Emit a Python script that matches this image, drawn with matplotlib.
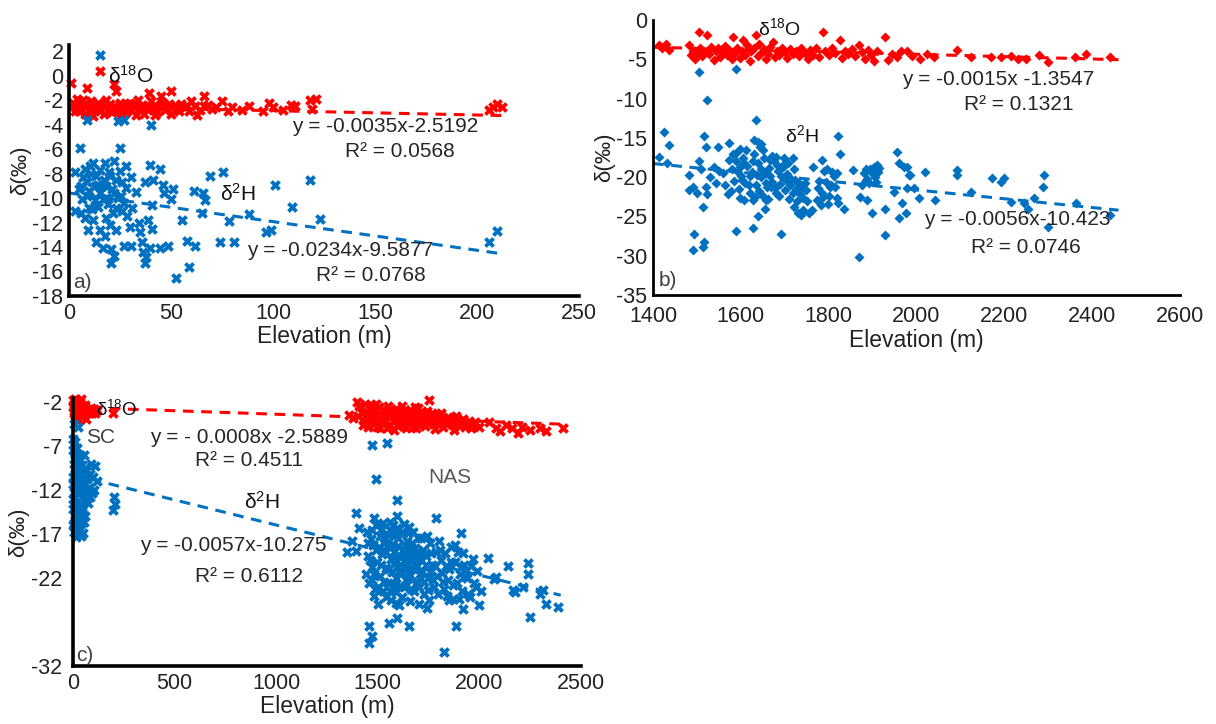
import matplotlib
matplotlib.use("Agg")
import matplotlib.pyplot as plt

plt.rcParams['font.family'] = ['Liberation Sans', 'DejaVu Sans']
plt.rcParams['axes.unicode_minus'] = False
plt.rcParams['mathtext.fontset'] = 'custom'
plt.rcParams['mathtext.rm'] = 'Liberation Sans'
plt.rcParams['mathtext.it'] = 'Liberation Sans:italic'

RED = '#FF0000'
BLUE = '#0070C0'

# ---------------- panel a ----------------
a_o18 = [(1, -0.6), (2, -2.2), (3, -2.6), (4, -1.9), (5, -2.9), (6, -2.4), (7, -2.0), (8, -3.1),
         (9, -1.0), (9, -2.5), (10, -2.8), (11, -2.1), (12, -3.3), (13, -2.6), (14, -2.2), (15, 0.4),
         (15, -2.9), (16, -2.4), (17, -3.1), (18, -2.0), (19, -2.7), (20, -2.3), (21, -3.0), (22, -0.7),
         (22, -2.5), (23, -1.3), (24, -2.9), (25, -3.4), (25, -2.2), (26, -2.7), (27, -2.4), (28, -3.0),
         (29, -2.6), (30, -2.2), (31, -2.9), (32, -2.5), (33, -3.2), (34, -2.0), (35, -2.7), (36, -2.4),
         (37, -3.1), (38, -2.6), (39, -1.4), (40, -2.1), (41, -2.8), (42, -2.4), (43, -3.0), (44, -2.5),
         (45, -1.7), (46, -2.2), (47, -2.8), (48, -2.6), (50, -1.3), (50, -3.1), (52, -2.4), (53, -2.7),
         (55, -2.3), (57, -2.6), (59, -2.9), (60, -2.1), (62, -2.5), (64, -2.8), (66, -1.7), (68, -2.4),
         (70, -2.7), (75, -2.1), (78, -2.9), (80, -2.6), (85, -2.8), (88, -2.5), (95, -2.9), (98, -2.2),
         (100, -2.6), (105, -2.8), (109, -2.4), (111, -2.5), (118, -2.0), (119, -2.7), (121, -1.9),
         (206, -2.8), (208, -2.6), (210, -2.3), (212, -2.6),
         (3, -2.9), (5, -2.1), (8, -2.3), (11, -2.9), (14, -2.7), (17, -2.2), (20, -2.9), (23, -2.8),
         (26, -3.1), (29, -2.3), (33, -2.4), (36, -2.8), (39, -2.5), (42, -3.2), (45, -2.6), (49, -2.3),
         (54, -2.9), (58, -2.5), (63, -3.2), (66, -2.5), (72, -2.6)]
a_h2 = [(15, 1.7), (9, -3.6), (24, -3.7), (27, -3.6), (40, -4.0), (3, -7.9), (5.6, -5.9), (4.8, -9.3),
        (3.2, -11.1), (6.3, -10.1), (7.9, -11.6), (9.5, -12.6), (10.3, -7.4), (11.9, -7.1), (13.5, -8.2),
        (15, -7.7), (12.7, -9.0), (15, -9.6), (16.7, -10.1), (14.3, -10.7), (11.1, -10.9), (8.7, -8.7),
        (18.3, -9.0), (17.5, -7.1), (19.8, -7.9), (22.2, -7.0), (23, -8.5), (25, -5.9), (27.8, -7.4),
        (26.2, -8.7), (30.2, -8.3), (25.4, -9.8), (27, -10.4), (28.6, -11.5), (26.2, -11.1), (21.4, -11.2),
        (15, -12.6), (17.5, -13.1), (13.5, -13.6), (16.7, -14.1), (20.6, -14.2), (22.2, -14.7), (20.6, -15.3),
        (23, -12.6), (27, -13.9), (30.2, -13.9), (34.1, -12.0), (34.9, -12.8), (35.7, -13.6), (36.5, -14.4),
        (37.3, -15.3), (38, -14.8), (39.7, -14.1), (40.5, -12.5), (38.9, -11.8), (39.7, -7.3), (44.4, -7.6),
        (37.3, -8.7), (41.3, -8.5), (46, -8.9), (46.8, -9.6), (50.8, -9.3), (50, -10.1), (40.5, -10.6),
        (44.4, -14.1), (48.4, -13.9), (52.4, -16.5), (55.6, -11.8), (57.9, -13.5), (61.9, -13.9),
        (58.7, -15.6), (61.1, -9.4), (65.9, -9.6), (66.7, -10.2), (65.1, -11.2), (69, -8.2), (75.4, -7.9),
        (73.8, -13.6), (78.6, -11.9), (81, -13.6), (88, -11.3), (96.8, -12.8), (99.2, -12.6), (100.8, -8.9),
        (109.5, -10.7), (118.3, -8.5), (123, -11.7), (206, -13.6), (210, -12.7),
        (7, -8.3), (9, -9.8), (11, -8.0), (13, -10.2), (17, -8.5), (19, -10.5), (21, -9.3), (24, -10.0),
        (20, -12.2), (12, -11.8), (6, -9.0), (10, -10.8), (18, -11.6), (28, -9.2), (33, -9.5), (31, -10.8),
        (30, -12.4), (8, -7.6), (14, -8.9), (16, -9.0), (20, -8.2), (22, -9.6), (25, -7.8), (10, -9.4),
        (6, -11.2), (18, -10.0), (23, -10.8)]
a_fit_o18 = (-0.0035, -2.5192)
a_fit_h2 = (-0.0234, -9.5877)
a_fit_x = (0, 213)

# ---------------- panel b ----------------
b_o18 = [(1414, -3.2), (1420, -3.6), (1429, -3.0), (1437, -3.8), (1482, -3.2), (1486, -4.5), (1490, -3.9),
         (1495, -5.0), (1500, -4.2), (1505, -1.5), (1508, -3.5), (1512, -4.6), (1518, -3.9), (1524, -1.9),
         (1527, -4.3), (1532, -3.4), (1538, -5.1), (1543, -4.0), (1548, -3.6), (1553, -4.7), (1558, -4.1),
         (1563, -3.3), (1568, -4.5), (1574, -3.8), (1580, -5.0), (1582, -2.1), (1586, -4.2), (1592, -3.5),
         (1597, -4.8), (1602, -3.9), (1605, -2.5), (1610, -4.4), (1615, -3.2), (1620, -5.2), (1624, -4.0),
         (1630, -3.6), (1635, -1.9), (1638, -4.6), (1642, -3.1), (1647, -4.2), (1652, -3.7), (1657, -5.0),
         (1662, -4.3), (1667, -3.4), (1673, -2.8), (1678, -4.7), (1683, -3.9), (1688, -4.4), (1693, -3.5),
         (1700, -4.1), (1706, -4.8), (1712, -3.7), (1718, -4.3), (1725, -3.9), (1732, -4.6), (1738, -3.6),
         (1745, -4.2), (1752, -4.9), (1758, -3.8), (1765, -4.4), (1772, -3.5), (1778, -4.7), (1788, -1.5),
         (1792, -4.0), (1800, -4.5), (1808, -3.6), (1815, -4.2), (1826, -2.5), (1830, -4.8), (1838, -3.9),
         (1845, -4.3), (1852, -3.7), (1860, -4.6), (1868, -3.2), (1875, -4.1), (1882, -4.9), (1890, -3.8),
         (1896, -4.4), (1903, -5.2), (1910, -4.0), (1929, -2.1), (1935, -5.1), (1945, -4.3), (1955, -4.7),
         (1965, -3.9), (1978, -4.0), (1990, -4.6), (2009, -4.9), (2024, -4.3), (2039, -4.7), (2093, -3.8),
         (2123, -4.7), (2169, -4.7), (2192, -4.7), (2215, -4.6), (2230, -4.9), (2249, -4.9), (2280, -4.5),
         (2299, -5.3), (2360, -4.7), (2387, -4.3), (2440, -4.7)]
b_h2 = [(1505, -6.6), (1589, -6.2), (1524, -10.2), (1635, -12.7), (1425, -14.2), (1437, -15.9), (1414, -17.4),
        (1433, -18.2), (1482, -19.7), (1482, -21.6), (1494, -27.2), (1490, -29.3), (1513, -28.9), (1517, -28.2),
        (1513, -23.8), (1524, -22.1), (1517, -14.8), (1521, -16.1), (1544, -20.8), (1547, -16.1), (1570, -22.1),
        (1589, -26.9), (1574, -15.7), (1582, -17.0), (1597, -18.7), (1608, -22.9), (1627, -22.9), (1627, -26.5),
        (1639, -25.0), (1631, -15.3), (1643, -16.1), (1658, -19.5), (1666, -17.8), (1681, -17.4), (1696, -18.7),
        (1692, -27.2), (1654, -24.0), (1658, -22.9), (1669, -21.2), (1719, -17.6), (1723, -20.4), (1739, -21.2),
        (1742, -24.2), (1761, -24.2), (1773, -22.9), (1765, -18.7), (1784, -17.8), (1796, -18.9), (1822, -14.8),
        (1826, -17.0), (1818, -19.5), (1803, -21.2), (1788, -22.5), (1834, -24.0), (1856, -19.1), (1868, -30.1),
        (1872, -22.5), (1884, -20.4), (1887, -22.9), (1895, -19.1), (1899, -24.6), (1903, -18.7), (1910, -18.5),
        (1929, -24.0), (1929, -27.4), (1956, -16.8), (1960, -18.2), (1971, -18.7), (1948, -21.9), (1967, -23.3),
        (1960, -25.2), (1975, -24.6), (1986, -19.7), (1994, -21.4), (2005, -22.7), (1978, -18.7), (1982, -19.7),
        (1978, -21.4), (2020, -19.3), (2043, -22.9), (2093, -19.1), (2093, -19.7), (2123, -21.9), (2173, -20.1),
        (2200, -20.1), (2192, -20.6), (2215, -23.1), (2245, -23.3), (2253, -24.0), (2268, -22.7), (2287, -21.2),
        (2291, -19.7), (2299, -26.3), (2364, -23.3), (2440, -24.8),
        (1580, -19.0), (1585, -20.5), (1590, -18.0), (1595, -21.5), (1600, -19.8), (1605, -17.5), (1610, -20.8),
        (1615, -18.6), (1620, -22.0), (1625, -19.3), (1630, -17.0), (1635, -21.0), (1640, -18.2), (1645, -20.0),
        (1650, -22.4), (1652, -17.6), (1655, -19.5), (1660, -21.3), (1665, -18.8), (1670, -20.6), (1675, -17.9),
        (1680, -22.0), (1685, -19.2), (1690, -20.9), (1695, -18.4), (1700, -21.6), (1705, -19.6), (1710, -22.8),
        (1715, -20.2), (1720, -23.8), (1725, -21.5), (1730, -24.5), (1735, -22.2), (1745, -20.8), (1750, -23.0),
        (1778, -20.5), (1785, -22.0), (1790, -19.2), (1798, -23.4), (1805, -21.0), (1812, -19.8), (1818, -22.6),
        (1880, -19.5), (1888, -20.2), (1895, -18.9), (1905, -20.0), (1912, -19.3), (1560, -19.5), (1565, -21.0),
        (1550, -19.2), (1540, -18.7), (1530, -20.0), (1520, -21.2), (1510, -19.0), (1505, -18.0), (1500, -22.0),
        (1490, -21.3),
        (1572, -17.8), (1578, -21.8), (1588, -16.9), (1593, -19.4), (1598, -22.6), (1603, -20.3), (1607, -18.2),
        (1612, -16.6), (1618, -21.0), (1622, -19.9), (1628, -18.0), (1633, -22.5), (1637, -19.7), (1642, -21.8),
        (1647, -18.9), (1650, -16.6), (1657, -20.7), (1662, -22.8), (1667, -19.9), (1672, -17.3), (1677, -21.4),
        (1682, -18.5), (1687, -22.4), (1692, -19.8), (1698, -17.6), (1703, -20.4), (1708, -18.2), (1713, -21.0),
        (1718, -22.0), (1722, -19.0), (1728, -23.0), (1733, -20.8), (1738, -24.8), (1742, -22.6), (1748, -21.6),
        (1755, -24.6), (1775, -21.4), (1782, -23.6), (1793, -20.6), (1800, -22.4), (1808, -19.4), (1815, -21.2),
        (1822, -23.3), (1876, -21.0), (1884, -19.0), (1892, -20.8), (1900, -19.6), (1908, -20.6), (1915, -18.8),
        (1598, -16.4), (1645, -15.8), (1640, -15.5)]
b_fit_o18 = (-0.0015, -1.3547)
b_fit_h2 = (-0.0056, -10.423)
b_fit_x = (1400, 2460)

# ---------------- panel c ----------------
c_o18 = [(0, -1.8), (5, -2.2), (10, -2.6), (15, -1.9), (20, -3.0), (25, -2.4), (30, -3.4), (35, -2.0),
         (40, -2.8), (45, -3.6), (50, -2.5), (55, -3.1), (60, -2.3), (70, -2.9), (80, -3.3), (90, -2.7),
         (100, -3.0), (110, -3.2), (120, -2.9), (8, -3.8), (18, -3.9), (28, -4.0), (3, -3.2), (12, -1.6),
         (197, -3.3), (65, -3.9), (40, -1.7), (5, -3.0), (15, -2.8), (22, -2.2), (33, -2.9), (48, -3.2),
         (58, -2.8), (75, -3.1), (85, -2.9), (95, -3.3), (105, -2.8), (2, -2.6), (10, -3.5),
         (1360, -3.5), (1380, -3.8), (1400, -2.0), (1410, -2.5), (1420, -3.2), (1430, -4.2), (1440, -3.0),
         (1450, -4.8), (1460, -2.6), (1470, -3.9), (1480, -4.5), (1490, -2.2), (1500, -3.4), (1510, -5.0),
         (1520, -2.9), (1530, -4.1), (1540, -3.6), (1550, -2.4), (1560, -4.6), (1570, -3.1), (1580, -5.2),
         (1590, -2.8), (1600, -3.8), (1610, -4.4), (1620, -2.5), (1630, -3.3), (1640, -4.9), (1650, -3.7),
         (1660, -2.9), (1670, -4.3), (1680, -3.5), (1690, -5.0), (1700, -2.7), (1710, -4.0), (1720, -3.4),
         (1730, -4.7), (1740, -3.0), (1753, -1.8), (1760, -4.2), (1770, -3.6), (1780, -5.1), (1790, -3.9),
         (1800, -4.5), (1810, -3.3), (1820, -4.8), (1830, -4.0), (1845, -3.7), (1860, -4.4), (1875, -5.2),
         (1890, -4.1), (1905, -4.7), (1920, -3.9), (1940, -4.5), (1960, -5.0), (1980, -4.3), (2000, -4.8),
         (2049, -4.3), (2080, -4.9), (2100, -5.3), (2130, -4.6), (2160, -5.0), (2190, -5.5), (2210, -4.8),
         (2250, -5.2), (2300, -4.9), (2330, -5.3), (2410, -5.0),
         (1405, -3.6), (1425, -4.6), (1435, -2.2), (1445, -3.4), (1455, -4.0), (1465, -3.2), (1475, -2.4),
         (1485, -3.6), (1495, -4.8), (1505, -2.6), (1515, -3.8), (1525, -4.5), (1535, -3.0), (1545, -4.9),
         (1555, -3.4), (1565, -2.8), (1575, -4.2), (1585, -3.5), (1595, -4.6), (1605, -3.0), (1615, -3.9),
         (1625, -4.7), (1635, -2.9), (1645, -3.8), (1655, -4.5), (1665, -3.6), (1675, -4.8), (1685, -2.6),
         (1695, -3.9), (1705, -4.6), (1715, -3.1), (1725, -4.2), (1735, -3.7), (1745, -4.4), (1765, -3.2),
         (1775, -4.5), (1785, -3.5), (1795, -4.4), (1805, -3.8), (1815, -4.2), (1840, -4.5), (1855, -3.9),
         (1870, -4.6), (1885, -3.6), (1900, -4.4), (1930, -4.8), (1950, -4.2), (1970, -4.7)]
c_h2 = [(5, -4.5), (25, -4.8), (10, -6.5), (0, -7.5), (15, -8.0), (30, -8.5), (5, -9.0), (45, -9.2),
        (20, -9.8), (60, -9.5), (90, -9.0), (110, -9.3), (0, -10.5), (35, -10.3), (70, -10.8), (100, -10.5),
        (15, -11.2), (50, -11.5), (80, -11.8), (120, -11.0), (5, -12.2), (30, -12.5), (65, -12.8), (95, -12.3),
        (20, -13.4), (45, -13.8), (75, -13.5), (0, -14.2), (35, -14.6), (60, -14.9), (10, -15.4), (40, -15.8),
        (25, -16.3), (50, -16.9), (5, -16.8), (15, -17.3), (30, -10.0), (10, -11.8), (55, -8.0), (40, -12.0),
        (200, -12.8), (205, -13.6), (198, -14.3), (0, -13.0), (20, -15.0),
        (2, -6.2), (8, -7.8), (18, -7.2), (25, -9.0), (35, -8.0), (12, -9.5), (40, -9.8), (50, -10.2),
        (2, -11.3), (25, -11.0), (60, -11.2), (8, -12.9), (28, -13.8), (55, -13.2), (85, -12.8), (15, -14.5),
        (50, -14.2), (5, -15.8), (30, -15.2), (55, -15.6), (20, -16.8), (40, -17.2), (10, -8.6), (45, -11.0),
        (70, -12.2), (35, -16.5), (0, -16.0), (65, -9.8), (105, -12.0), (85, -10.2),
        (1473, -6.9), (1547, -6.7), (1490, -10.7), (1596, -13.1), (1391, -14.6), (1481, -15.2), (1596, -15.0),
        (1786, -15.2), (1407, -16.3), (1909, -16.9), (1349, -19.0), (1391, -18.9), (1374, -17.8), (1473, -22.2),
        (1457, -27.5), (1473, -28.6), (1457, -29.4), (1555, -27.1), (1596, -26.6), (1654, -27.4), (1885, -27.5),
        (1827, -30.4), (2247, -26.4), (2041, -19.7), (2140, -20.6), (2238, -20.3), (2238, -21.6), (2074, -22.1),
        (2173, -23.6), (2214, -23.0), (2313, -23.4), (2329, -24.9), (1983, -23.0), (2000, -25.1), (1917, -25.5),
        (1852, -24.5), (1753, -24.5), (1703, -24.9), (1604, -25.1), (1440, -21.6), (2387, -25.3), (2296, -23.8),
        (2165, -23.4), (2082, -21.9),
        (1450, -18.0), (1460, -20.0), (1470, -16.5), (1480, -21.5), (1490, -18.8), (1500, -23.0), (1510, -17.2),
        (1515, -20.5), (1525, -15.8), (1530, -22.4), (1540, -19.0), (1545, -17.0), (1555, -21.0), (1560, -23.5),
        (1570, -18.2), (1575, -16.0), (1585, -20.0), (1590, -22.0), (1600, -17.5), (1605, -19.5), (1612, -21.5),
        (1620, -16.8), (1625, -18.8), (1630, -23.0), (1635, -20.5), (1645, -17.8), (1650, -22.0), (1655, -19.8),
        (1665, -21.0), (1670, -18.0), (1680, -23.5), (1688, -20.0), (1695, -22.5), (1700, -19.0), (1710, -21.5),
        (1715, -17.5), (1725, -23.8), (1735, -19.5), (1745, -22.0), (1755, -18.0), (1765, -20.5), (1775, -23.0),
        (1785, -19.0), (1790, -21.8), (1800, -17.8), (1810, -20.0), (1820, -22.5), (1830, -19.2), (1840, -24.0),
        (1850, -21.0), (1860, -18.5), (1870, -22.8), (1880, -20.2), (1895, -19.0), (1905, -21.5), (1915, -23.5),
        (1925, -20.5), (1940, -22.0), (1955, -24.2), (1970, -19.8), (1990, -21.2), (2010, -23.5), (1565, -24.5),
        (1480, -24.0), (1620, -24.2), (1530, -18.0), (1560, -16.5), (1655, -16.2), (1595, -20.8), (1640, -19.0),
        (1580, -22.8),
        (1445, -16.8), (1452, -19.5), (1458, -22.6), (1465, -17.6), (1472, -20.8), (1478, -18.2), (1485, -23.2),
        (1493, -16.0), (1498, -20.2), (1505, -18.5), (1512, -21.8), (1518, -16.6), (1522, -19.3), (1528, -23.5),
        (1535, -17.4), (1538, -20.9), (1548, -18.3), (1552, -22.6), (1558, -15.6), (1563, -19.8), (1568, -21.3),
        (1578, -17.2), (1582, -19.1), (1588, -23.6), (1593, -16.3), (1598, -18.4), (1603, -21.2), (1608, -22.9),
        (1615, -19.6), (1618, -17.0), (1623, -20.8), (1628, -15.9), (1633, -18.2), (1638, -22.2), (1643, -20.0),
        (1648, -16.9), (1652, -18.9), (1658, -21.7), (1662, -23.3), (1668, -19.4), (1673, -16.8), (1677, -21.0),
        (1683, -18.6), (1687, -22.7), (1692, -20.6), (1698, -17.4), (1703, -23.0), (1708, -19.8), (1718, -21.2),
        (1722, -18.8), (1728, -22.4), (1738, -20.5), (1742, -17.2), (1748, -23.4), (1758, -21.3), (1762, -19.2),
        (1772, -22.2), (1782, -20.6), (1795, -23.8), (1805, -18.8), (1815, -21.4), (1825, -23.2), (1835, -20.6),
        (1845, -22.2), (1858, -20.2), (1868, -24.4), (1878, -18.2), (1888, -22.6), (1898, -24.4), (1908, -20.8),
        (1918, -19.2), (1930, -21.8), (1945, -23.8), (1960, -20.6), (1975, -22.6), (1500, -25.0), (1540, -24.2),
        (1590, -24.8), (1660, -24.6), (1740, -25.4)]
c_fit_o18 = (-0.0008, -2.5889)
c_fit_h2 = (-0.0057, -10.275)
c_fit_x = (0, 2400)


def xy(pts):
    return [p[0] for p in pts], [p[1] for p in pts]


def trend(ax, fit, xr, color):
    xs = list(xr)
    ys = [fit[0] * v + fit[1] for v in xs]
    ax.plot(xs, ys, color=color, lw=2.2, ls=(0, (3.5, 2.5)), zorder=1)


def style(ax, lw, xpad=5, ypad=4):
    for s in ['top', 'right']:
        ax.spines[s].set_visible(False)
    for s in ['left', 'bottom']:
        ax.spines[s].set_linewidth(lw)
        ax.spines[s].set_color('black')
    ax.tick_params(axis='x', length=0, labelsize=15.5, pad=xpad, colors='#222222')
    ax.tick_params(axis='y', length=0, labelsize=15.5, pad=ypad, colors='#222222')
    ax.set_xlabel('Elevation (m)', fontsize=16.5, labelpad=1, color='#222222')
    ax.set_ylabel('δ(‰)', fontsize=16, labelpad=1, color='#222222')


fig = plt.figure(figsize=(12.16, 7.24), dpi=100)
txt = dict(fontsize=15, color='#262626')
dlab = dict(fontsize=15, color='#111111')

# panel a
ax = fig.add_axes([0.0567, 0.5912, 0.4195, 0.3467])
x, y = xy(a_o18)
ax.scatter(x, y, marker='X', s=60, color=RED, linewidths=0, zorder=2, clip_on=False)
x, y = xy(a_h2)
ax.scatter(x, y, marker='X', s=60, color=BLUE, linewidths=0, zorder=2, clip_on=False)
trend(ax, a_fit_o18, a_fit_x, RED)
trend(ax, a_fit_h2, a_fit_x, BLUE)
ax.set_xlim(0, 250)
ax.set_ylim(-18, 2.5)
ax.set_xticks(range(0, 251, 50))
ax.set_yticks(range(-18, 3, 2))
style(ax, 2.6)
ax.text(19, 0.0, 'δ$^{18}$O', ha='left', va='center', **dlab)
ax.text(155, -4.2, 'y = -0.0035x-2.5192', ha='center', va='center', **txt)
ax.text(162, -6.2, 'R² = 0.0568', ha='center', va='center', **txt)
ax.text(74, -9.7, 'δ$^{2}$H', ha='left', va='center', **dlab)
ax.text(133, -14.3, 'y = -0.0234x-9.5877', ha='center', va='center', **txt)
ax.text(148, -16.3, 'R² = 0.0768', ha='center', va='center', **txt)
ax.text(2, -16.9, 'a)', ha='left', va='center', fontsize=15, color='#404040')

# panel b
ax = fig.add_axes([0.537, 0.5925, 0.4334, 0.3798])
x, y = xy(b_o18)
ax.scatter(x, y, marker='D', s=26, color=RED, linewidths=0, zorder=2)
x, y = xy(b_h2)
ax.scatter(x, y, marker='D', s=26, color=BLUE, linewidths=0, zorder=2)
trend(ax, b_fit_o18, b_fit_x, RED)
trend(ax, b_fit_h2, b_fit_x, BLUE)
ax.set_xlim(1400, 2600)
ax.set_ylim(-35, 0)
ax.set_xticks(range(1400, 2601, 200))
ax.set_yticks(range(-35, 1, 5))
style(ax, 2.0, xpad=8)
ax.text(1638, -1.0, 'δ$^{18}$O', ha='left', va='center', fontsize=14, color='#111111')
ax.text(2187, -7.6, 'y = -0.0015x -1.3547', ha='center', va='center', **txt)
ax.text(2233, -10.8, 'R² = 0.1321', ha='center', va='center', **txt)
ax.text(1700, -14.6, 'δ$^{2}$H', ha='left', va='center', fontsize=14, color='#111111')
ax.text(2229, -25.4, 'y = -0.0056x-10.423', ha='center', va='center', **txt)
ax.text(2250, -29.0, 'R² = 0.0746', ha='center', va='center', **txt)
ax.text(1412, -33.2, 'b)', ha='left', va='center', fontsize=15, color='#404040')

# panel c
ax = fig.add_axes([0.060, 0.0801, 0.4178, 0.3707])
x, y = xy(c_o18)
ax.scatter(x, y, marker='X', s=60, color=RED, linewidths=0, zorder=2, clip_on=False)
x, y = xy(c_h2)
ax.scatter(x, y, marker='X', s=60, color=BLUE, linewidths=0, zorder=2, clip_on=False)
trend(ax, c_fit_o18, c_fit_x, RED)
trend(ax, c_fit_h2, c_fit_x, BLUE)
ax.set_xlim(0, 2500)
ax.set_ylim(-32, -1.5)
ax.set_xticks(range(0, 2501, 500))
ax.set_yticks([-32, -22, -17, -12, -7, -2])
style(ax, 2.6, ypad=8)
ax.text(115, -2.9, 'δ$^{18}$O', ha='left', va='center', fontsize=13.5, color='#111111')
ax.text(64, -6.0, 'SC', ha='left', va='center', fontsize=15, color='#404040')
ax.text(864, -6.0, 'y = - 0.0008x -2.5889', ha='center', va='center', **txt)
ax.text(869, -8.7, 'R² = 0.4511', ha='center', va='center', **txt)
ax.text(928, -13.4, 'δ$^{2}$H', ha='center', va='center', **dlab)
ax.text(790, -18.25, 'y = -0.0057x-10.275', ha='center', va='center', **txt)
ax.text(864, -21.8, 'R² = 0.6112', ha='center', va='center', **txt)
ax.text(1852, -10.6, 'NAS', ha='center', va='center', fontsize=15, color='#595959')
ax.text(15, -30.8, 'c)', ha='left', va='center', fontsize=15, color='#404040')

fig.savefig('out.png', dpi=100)
